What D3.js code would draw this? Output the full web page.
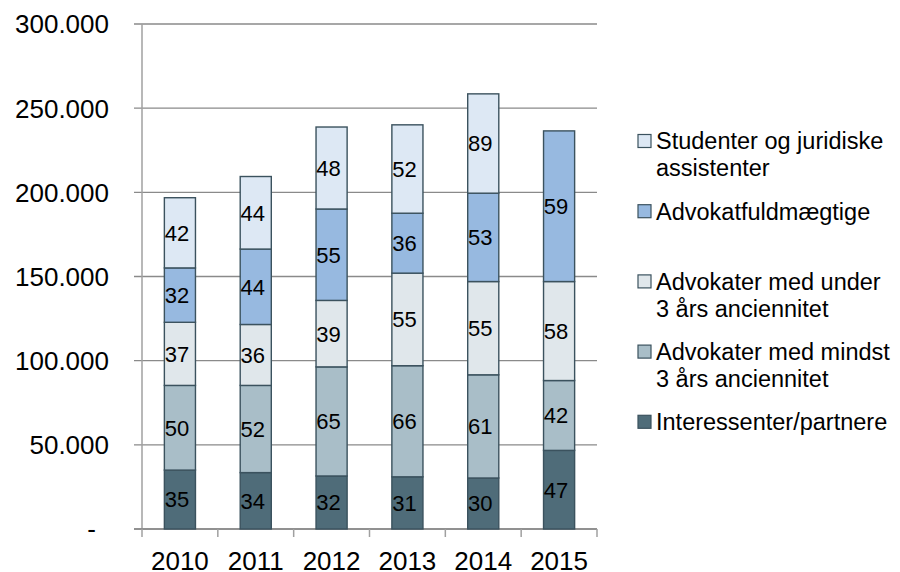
<!DOCTYPE html>
<meta charset="utf-8">
<style>
body { margin: 0; background: #fff; }
svg { font-family: "Liberation Sans", Arial, sans-serif; }
.grid line { stroke: #8a8a8a; stroke-width: 1.3px; }
.seg { stroke: #3b525e; stroke-width: 1.4px; }
.lbl { font-size: 22px; fill: #000; text-anchor: middle; }
.tick-y { font-size: 26px; fill: #000; text-anchor: end; }
.tick-x { font-size: 26px; fill: #000; text-anchor: middle; }
.leg { font-size: 23.5px; fill: #000; }
</style>
<svg width="900" height="572"></svg>
<script src="https://cdn.jsdelivr.net/npm/d3@7"></script>
<script>

var years = ["2010", "2011", "2012", "2013", "2014", "2015"];
var yTicks = [0, 50000, 100000, 150000, 200000, 250000, 300000];

var seriesNames = ["Interessenter/partnere",
                   "Advokater med mindst 3 års anciennitet",
                   "Advokater med under 3 års anciennitet",
                   "Advokatfuldmægtige",
                   "Studenter og juridiske assistenter"];
var legendLines = [["Interessenter/partnere"],
                   ["Advokater med mindst", "3 års anciennitet"],
                   ["Advokater med under", "3 års anciennitet"],
                   ["Advokatfuldmægtige"],
                   ["Studenter og juridiske", "assistenter"]];
var colors = ["#4f6c79", "#a9bec8", "#e0e7eb", "#97b9e0", "#dde8f4"];

// bar heights as drawn
var interessenter = [35000, 33500, 31500, 31000, 30300, 46700];
var mindst        = [50300, 51800, 64800, 66000, 61300, 41500];
var under         = [37500, 36200, 39500, 55000, 55400, 58800];
var fuldmaegtige  = [32300, 44800, 54300, 35600, 52500, 89500];
var studenter     = [41700, 43100, 48700, 52500, 59000, 0];

// numbers printed in the segments
var lblInteressenter = [35, 34, 32, 31, 30, 47];
var lblMindst        = [50, 52, 65, 66, 61, 42];
var lblUnder         = [37, 36, 39, 55, 55, 58];
var lblFuld          = [32, 44, 55, 36, 53, 59];
var lblStudenter     = [42, 44, 48, 52, 89, null];

var series = [interessenter, mindst, under, fuldmaegtige, studenter];
var labels = [lblInteressenter, lblMindst, lblUnder, lblFuld, lblStudenter];

var margin = {top: 24, right: 303, bottom: 43, left: 142},
    width = 900 - margin.left - margin.right,
    height = 572 - margin.top - margin.bottom;

var svg = d3.select("svg");
var g = svg.append("g").attr("transform", "translate(" + margin.left + "," + margin.top + ")");

var x = d3.scaleBand().domain(years).range([0, width]).padding(0);
var y = d3.scaleLinear().domain([0, 300000]).range([height, 0]);

var fmt = function(d) { return d === 0 ? "-" : d3.format(",")(d).replace(/,/g, "."); };

// gridlines + y ticks
var grid = g.append("g").attr("class", "grid");
grid.selectAll("line").data(yTicks).enter().append("line")
    .attr("x1", -8).attr("x2", width)
    .attr("y1", function(d) { return y(d); }).attr("y2", function(d) { return y(d); });

g.selectAll(".tick-y").data(yTicks).enter().append("text")
    .attr("class", "tick-y")
    .attr("x", function(d) { return d === 0 ? -46 : -33; })
    .attr("y", function(d) { return y(d); })
    .attr("dy", "0.36em")
    .text(fmt);

// axes lines
g.append("line").attr("x1", 0).attr("x2", 0).attr("y1", 0).attr("y2", height + 0.5)
    .attr("stroke", "#a0a0a0").attr("stroke-width", 1.5);
g.append("line").attr("x1", -8).attr("x2", width).attr("y1", height).attr("y2", height)
    .attr("stroke", "#8a8a8a").attr("stroke-width", 1.5);

var bounds = years.map(function(d) { return x(d); }).concat([width]);
g.selectAll(".xt").data(bounds).enter().append("line")
    .attr("x1", function(d) { return d; }).attr("x2", function(d) { return d; })
    .attr("y1", height).attr("y2", height + 8)
    .attr("stroke", "#a0a0a0").attr("stroke-width", 1.5);

g.selectAll(".tick-x").data(years).enter().append("text")
    .attr("class", "tick-x")
    .attr("x", function(d) { return x(d) + x.bandwidth() / 2; })
    .attr("y", height + 41)
    .text(function(d) { return d; });

// stack
var rows = years.map(function(yr, i) {
  var r = {year: yr};
  series.forEach(function(s, k) { r[k] = s[i]; });
  return r;
});
var stack = d3.stack().keys(d3.range(series.length))(rows);

var bw = x.bandwidth() * 0.41;

var layer = g.selectAll(".layer").data(stack).enter().append("g")
    .attr("class", "layer")
    .attr("fill", function(d, k) { return colors[k]; });

layer.selectAll("rect").data(function(d) { return d; }).enter()
  .filter(function(d) { return d[1] - d[0] > 0; })
  .append("rect")
    .attr("class", "seg")
    .attr("x", function(d) { return x(d.data.year) + (x.bandwidth() - bw) / 2; })
    .attr("width", bw)
    .attr("y", function(d) { return y(d[1]); })
    .attr("height", function(d) { return y(d[0]) - y(d[1]); });

stack.forEach(function(s, k) {
  s.forEach(function(d, i) {
    var v = labels[k][i];
    if (v == null) return;
    g.append("text").attr("class", "lbl")
      .attr("x", x(d.data.year) + x.bandwidth() / 2 - 3)
      .attr("y", (y(d[0]) + y(d[1])) / 2)
      .attr("dy", "0.36em")
      .text(v);
  });
});

// legend, top entry first
var leg = svg.append("g").attr("transform", "translate(638,141)");
var order = d3.range(seriesNames.length).reverse();
order.forEach(function(k, j) {
  var e = leg.append("g").attr("transform", "translate(0," + (j * 70.2) + ")");
  e.append("rect").attr("x", 0).attr("y", -6.5).attr("width", 13).attr("height", 13)
    .attr("fill", colors[k]).attr("stroke", "#3b525e").attr("stroke-width", 1.2);
  legendLines[k].forEach(function(t, li) {
    e.append("text").attr("class", "leg")
      .attr("x", 18).attr("y", li * 27).attr("dy", "0.36em")
      .text(t);
  });
});

</script>
